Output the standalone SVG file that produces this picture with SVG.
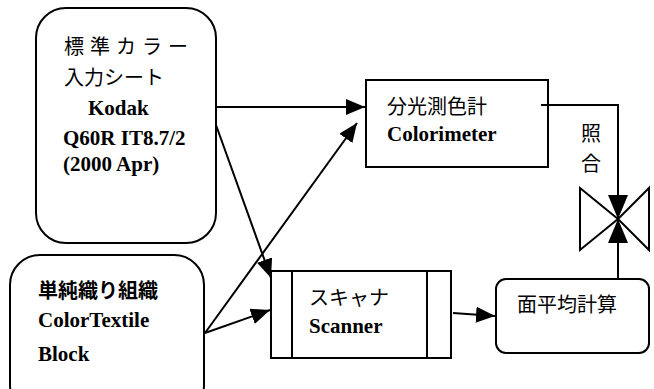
<svg xmlns="http://www.w3.org/2000/svg" width="654" height="389" viewBox="0 0 654 389">
<style>
.box{fill:#fff;stroke:#000;stroke-width:2}
.ln{fill:none;stroke:#000;stroke-width:2}
.jp{font-family:"Noto Sans CJK JP","Noto Sans",sans-serif;fill:#000;font-size:20px}
.en{font-family:"Liberation Serif","Times New Roman",serif;font-weight:bold;font-size:21px;fill:#000}
</style>
<defs>
<marker id="ah" markerUnits="userSpaceOnUse" markerWidth="19" markerHeight="16" refX="19" refY="8" orient="auto">
<path d="M0,0 L19,8 L0,16 Z" fill="#000"/>
</marker>
<marker id="ah2" markerUnits="userSpaceOnUse" markerWidth="24" markerHeight="20" refX="24" refY="10" orient="auto">
<path d="M0,0 L24,10 L0,20 Z" fill="#000"/>
</marker>
</defs>
<rect width="654" height="389" fill="#fff"/>
<g id="source1">
<rect class="box" x="36" y="8" width="180" height="235" rx="30" ry="30"/>
<text class="jp" x="64" y="54" font-size="19" textLength="124" lengthAdjust="spacing" xml:space="preserve">標 準 カ ラ ー</text>
<text class="jp" x="64" y="85">入力シート</text>
<text class="en" x="88" y="115">Kodak</text>
<text class="en" x="63" y="145">Q60R IT8.7/2</text>
<text class="en" x="63" y="171">(2000 Apr)</text>
</g>
<g id="source2">
<rect class="box" x="10" y="255" width="194" height="160" rx="30" ry="30"/>
<text class="jp" x="38" y="298" font-weight="bold">単純織り組織</text>
<text class="en" x="38" y="327">ColorTextile</text>
<text class="en" x="38" y="361">Block</text>
</g>
<g id="colorimeter">
<rect class="box" x="366" y="80" width="182" height="87"/>
<text class="jp" x="387" y="114">分光測色計</text>
<text class="en" x="387" y="141">Colorimeter</text>
</g>
<g id="scanner">
<rect class="box" x="271" y="271" width="180" height="87"/>
<line class="ln" x1="292" y1="271" x2="292" y2="358"/>
<line class="ln" x1="427" y1="271" x2="427" y2="358"/>
<text class="jp" x="309" y="305">スキャナ</text>
<text class="en" x="309" y="333">Scanner</text>
</g>
<g id="average">
<rect class="box" x="496" y="279" width="153" height="74" rx="10" ry="10"/>
<text class="jp" x="517" y="312">面平均計算</text>
</g>
<g id="valve">
<path class="box" d="M580,188 L618,219 L580,250 Z"/>
<path class="box" d="M649,188 L618,219 L649,250 Z"/>
</g>
<g id="label-match">
<text class="jp" x="591" y="141" font-size="21" text-anchor="middle">照</text>
<text class="jp" x="591" y="171" font-size="21" text-anchor="middle">合</text>
</g>
<g id="connectors">
<path class="ln" d="M216,107 L365,107" marker-end="url(#ah)"/>
<path class="ln" d="M205,333 L357,123" marker-end="url(#ah)"/>
<path class="ln" d="M205,333 L270,310" marker-end="url(#ah)"/>
<path class="ln" d="M216,125 L271,278" marker-end="url(#ah)"/>
<path class="ln" d="M453,313 L495,316" marker-end="url(#ah)"/>
<path class="ln" d="M541,105 L618,105 L618,219" marker-end="url(#ah2)"/>
<path class="ln" d="M618,279 L618,219" marker-end="url(#ah2)"/>
</g>
</svg>
